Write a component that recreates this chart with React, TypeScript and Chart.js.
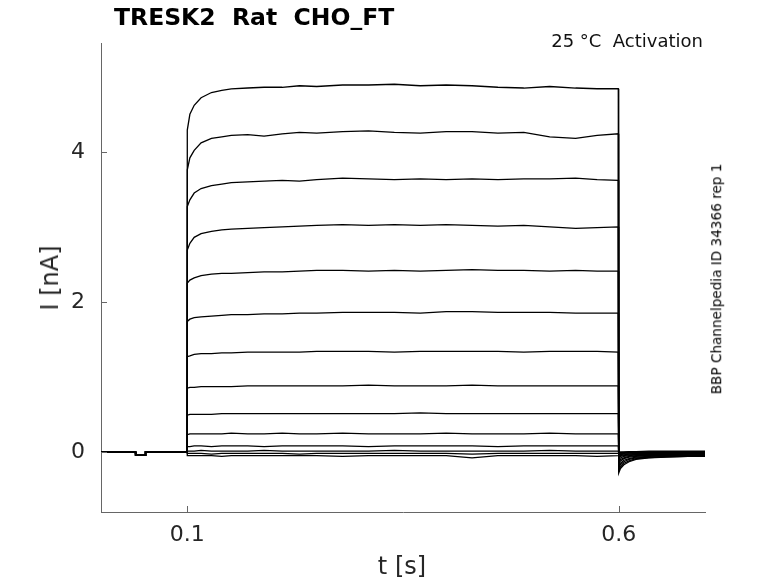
import React, { useEffect, useRef } from 'react';
import { Chart, registerables } from 'chart.js';

Chart.register(...registerables);

// holding period before the step (all sweeps overlap here)
const preTimes = [0, 0.04, 0.0401, 0.0515, 0.0516, 0.0999];
const preCurrents = [0, 0, -0.045, -0.045, 0, 0];

// step period, 0.1 .. 0.6 s
const stepTimes = [
  0.1, 0.103, 0.108, 0.116, 0.128, 0.14, 0.151, 0.17, 0.189, 0.21, 0.23, 0.25,
  0.28, 0.31, 0.34, 0.37, 0.4, 0.43, 0.46, 0.49, 0.52, 0.55, 0.575, 0.5995,
];

const stepCurrents = [
  [4.29, 4.5, 4.62, 4.72, 4.79, 4.82, 4.84, 4.85, 4.86, 4.86, 4.88, 4.87, 4.89, 4.89, 4.9, 4.88, 4.89, 4.88, 4.86, 4.85, 4.87, 4.85, 4.84, 4.84],
  [3.76, 3.92, 4.02, 4.12, 4.18, 4.2, 4.22, 4.23, 4.21, 4.24, 4.26, 4.25, 4.27, 4.28, 4.26, 4.25, 4.27, 4.27, 4.25, 4.26, 4.2, 4.18, 4.22, 4.24],
  [3.27, 3.36, 3.45, 3.51, 3.55, 3.57, 3.59, 3.6, 3.61, 3.62, 3.61, 3.63, 3.65, 3.64, 3.63, 3.64, 3.63, 3.64, 3.63, 3.64, 3.64, 3.65, 3.63, 3.62],
  [2.69, 2.78, 2.86, 2.91, 2.94, 2.96, 2.97, 2.98, 2.99, 3.0, 3.01, 3.02, 3.03, 3.02, 3.03, 3.02, 3.03, 3.02, 3.01, 3.02, 3.0, 2.98, 2.99, 3.0],
  [2.25, 2.29, 2.32, 2.35, 2.37, 2.38, 2.38, 2.39, 2.4, 2.4, 2.41, 2.42, 2.42, 2.41, 2.42, 2.41, 2.42, 2.43, 2.42, 2.42, 2.41, 2.42, 2.41, 2.41],
  [1.74, 1.77, 1.79, 1.8, 1.81, 1.82, 1.83, 1.83, 1.84, 1.84, 1.85, 1.85, 1.86, 1.86, 1.86, 1.85, 1.87, 1.87, 1.86, 1.86, 1.86, 1.85, 1.85, 1.85],
  [1.27, 1.28, 1.3, 1.31, 1.31, 1.32, 1.32, 1.33, 1.33, 1.33, 1.33, 1.34, 1.34, 1.34, 1.33, 1.34, 1.34, 1.34, 1.34, 1.33, 1.34, 1.34, 1.34, 1.33],
  [0.85, 0.86, 0.86, 0.87, 0.87, 0.87, 0.87, 0.88, 0.88, 0.88, 0.88, 0.88, 0.88, 0.89, 0.88, 0.88, 0.88, 0.89, 0.88, 0.88, 0.88, 0.88, 0.88, 0.88],
  [0.49, 0.5, 0.5, 0.5, 0.5, 0.51, 0.51, 0.51, 0.51, 0.51, 0.51, 0.51, 0.51, 0.51, 0.51, 0.52, 0.51, 0.51, 0.51, 0.51, 0.51, 0.51, 0.51, 0.51],
  [0.23, 0.24, 0.24, 0.24, 0.24, 0.24, 0.25, 0.24, 0.24, 0.25, 0.24, 0.24, 0.25, 0.24, 0.24, 0.24, 0.25, 0.24, 0.24, 0.24, 0.25, 0.24, 0.24, 0.24],
  [0.07, 0.07, 0.08, 0.08, 0.07, 0.08, 0.08, 0.08, 0.07, 0.08, 0.08, 0.08, 0.08, 0.07, 0.08, 0.08, 0.08, 0.08, 0.07, 0.08, 0.08, 0.08, 0.08, 0.08],
  [0.01, 0.01, 0.01, 0.02, 0.01, 0.01, 0.01, 0.01, 0.02, 0.01, 0.01, 0.01, 0.01, 0.01, 0.02, 0.01, 0.01, 0.01, 0.01, 0.01, 0.02, 0.01, 0.01, 0.01],
  [-0.02, -0.02, -0.02, -0.02, -0.03, -0.02, -0.02, -0.02, -0.02, -0.02, -0.03, -0.02, -0.02, -0.02, -0.02, -0.02, -0.02, -0.03, -0.02, -0.02, -0.02, -0.02, -0.02, -0.02],
  [-0.05, -0.05, -0.05, -0.05, -0.05, -0.06, -0.05, -0.05, -0.05, -0.05, -0.05, -0.05, -0.06, -0.05, -0.05, -0.05, -0.05, -0.08, -0.05, -0.05, -0.05, -0.05, -0.06, -0.05],
];

// deactivation tails after the step
const tailTimes = [0.6, 0.602, 0.606, 0.612, 0.62, 0.635, 0.655, 0.68, 0.7];

const tailCurrents = [
  [-0.28, -0.22, -0.17, -0.13, -0.1, -0.08, -0.07, -0.06, -0.06],
  [-0.25, -0.2, -0.15, -0.12, -0.09, -0.075, -0.065, -0.06, -0.055],
  [-0.22, -0.17, -0.13, -0.1, -0.08, -0.07, -0.06, -0.055, -0.05],
  [-0.19, -0.15, -0.11, -0.09, -0.07, -0.06, -0.055, -0.05, -0.05],
  [-0.16, -0.12, -0.09, -0.07, -0.06, -0.05, -0.045, -0.045, -0.04],
  [-0.13, -0.1, -0.08, -0.06, -0.05, -0.045, -0.04, -0.04, -0.04],
  [-0.1, -0.08, -0.06, -0.05, -0.04, -0.035, -0.035, -0.03, -0.03],
  [-0.08, -0.06, -0.05, -0.04, -0.035, -0.03, -0.03, -0.03, -0.025],
  [-0.06, -0.05, -0.04, -0.03, -0.03, -0.025, -0.02, -0.02, -0.02],
  [-0.04, -0.035, -0.03, -0.025, -0.02, -0.02, -0.015, -0.015, -0.015],
  [-0.03, -0.02, -0.02, -0.015, -0.01, -0.01, -0.01, -0.01, -0.01],
  [-0.02, -0.015, -0.01, -0.01, -0.005, 0, 0, 0, 0],
  [-0.01, -0.01, -0.005, 0, 0, 0, 0.005, 0.005, 0.005],
  [0, 0, 0, 0.005, 0.005, 0.01, 0.01, 0.01, 0.01],
];

const xTicks = [0.1, 0.6];
const yTicks = [0, 2, 4];

const AXIS_COLOR = '#666666';
const FONT = '"DejaVu Sans", sans-serif';

// inward tick marks, MATLAB style
const inwardTicks = {
  id: 'inwardTicks',
  afterDraw(chart: Chart) {
    const { ctx, chartArea, scales } = chart;
    ctx.save();
    ctx.strokeStyle = AXIS_COLOR;
    ctx.lineWidth = 1;
    ctx.beginPath();
    yTicks.forEach((v) => {
      const y = Math.round(scales.y.getPixelForValue(v)) + 0.5;
      ctx.moveTo(chartArea.left, y);
      ctx.lineTo(chartArea.left + 6, y);
    });
    xTicks.forEach((v) => {
      const x = Math.round(scales.x.getPixelForValue(v)) + 0.5;
      ctx.moveTo(x, chartArea.bottom);
      ctx.lineTo(x, chartArea.bottom - 6);
    });
    ctx.stroke();
    ctx.restore();
  },
};

const TraceChart: React.FC = () => {
  const canvasRef = useRef<HTMLCanvasElement>(null);
  const chartRef = useRef<Chart | null>(null);

  useEffect(() => {
    if (!canvasRef.current) return;
    if (chartRef.current) chartRef.current.destroy();

    const datasets = stepCurrents.map((step, i) => {
      const pts = [
        ...preTimes.map((t, j) => ({ x: t, y: preCurrents[j] })),
        ...stepTimes.map((t, j) => ({ x: t, y: step[j] })),
        ...tailTimes.map((t, j) => ({ x: t, y: tailCurrents[i][j] })),
      ];
      return {
        data: pts,
        borderColor: '#000000',
        borderWidth: 1.3,
        pointRadius: 0,
        tension: 0,
        fill: false,
      };
    });

    chartRef.current = new Chart(canvasRef.current, {
      type: 'line',
      data: { datasets },
      options: {
        animation: false,
        responsive: false,
        maintainAspectRatio: false,
        layout: { padding: { left: 0, right: 73, top: 43, bottom: 0 } },
        plugins: {
          legend: { display: false },
          tooltip: { enabled: false },
        },
        scales: {
          x: {
            type: 'linear',
            min: 0,
            max: 0.7,
            afterFit: (scale: any) => {
              scale.height = 71;
            },
            afterBuildTicks: (scale: any) => {
              scale.ticks = xTicks.map((v) => ({ value: v }));
            },
            grid: { display: false, drawTicks: false },
            border: { display: true, color: AXIS_COLOR, width: 1 },
            ticks: {
              padding: 10,
              color: '#262626',
              font: { family: FONT, size: 22 },
              callback: (v: any) => String(v),
            },
          },
          y: {
            type: 'linear',
            min: -0.8,
            max: 5.45,
            afterFit: (scale: any) => {
              scale.width = 101;
            },
            afterBuildTicks: (scale: any) => {
              scale.ticks = yTicks.map((v) => ({ value: v }));
            },
            grid: { display: false, drawTicks: false },
            border: { display: true, color: AXIS_COLOR, width: 1 },
            ticks: {
              padding: 16,
              color: '#262626',
              font: { family: FONT, size: 22 },
              callback: (v: any) => String(v),
            },
          },
        },
      },
      plugins: [inwardTicks],
    });

    return () => {
      if (chartRef.current) {
        chartRef.current.destroy();
        chartRef.current = null;
      }
    };
  }, []);

  return <canvas ref={canvasRef} width={778} height={583} style={{ position: 'absolute', left: 0, top: 0 }} />;
};

export default function App() {
  const txt: React.CSSProperties = { position: 'absolute', fontFamily: FONT, color: '#000', whiteSpace: 'nowrap', lineHeight: 1 };
  return (
    <div style={{ position: 'absolute', left: 0, top: 0, width: 778, height: 583, background: '#fff', overflow: 'hidden' }}>
      <TraceChart />
      <div style={{ ...txt, left: 114, top: 6, fontSize: 23.5, fontWeight: 'bold' }}>TRESK2&nbsp; Rat&nbsp; CHO_FT</div>
      <div style={{ ...txt, right: 75, top: 32, fontSize: 18, color: '#111' }}>25 °C&nbsp; Activation</div>
      <div style={{ ...txt, left: 402, top: 566, fontSize: 24, color: '#262626', transform: 'translate(-50%, -50%)' }}>t [s]</div>
      <div style={{ ...txt, left: 50, top: 278, fontSize: 24, color: '#262626', transform: 'translate(-50%, -50%) rotate(-90deg)' }}>I [nA]</div>
      <div style={{ ...txt, left: 717, top: 279, fontSize: 13.6, color: '#000', transform: 'translate(-50%, -50%) rotate(-90deg)' }}>BBP Channelpedia ID 34366 rep 1</div>
    </div>
  );
}
